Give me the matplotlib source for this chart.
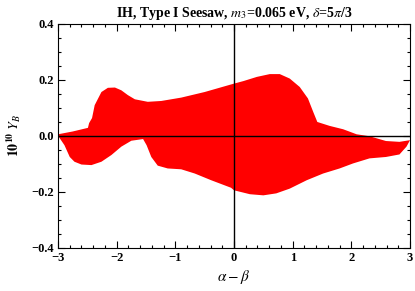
import matplotlib.pyplot as plt
import numpy as np
from matplotlib.ticker import MultipleLocator

plt.rcParams['font.family'] = ['Liberation Serif', 'DejaVu Serif']
plt.rcParams['mathtext.fontset'] = 'stix'

# upper edge of the allowed region (alpha - beta, 10^10 Y_B)
x_upper = [-3.0, -2.75, -2.49, -2.47, -2.42, -2.375, -2.26, -2.15, -2.03, -1.92,
           -1.81, -1.69, -1.47, -1.24, -0.90, -0.50, -0.05, 0.0, 0.16, 0.39,
           0.61, 0.78, 0.95, 1.12, 1.26, 1.35, 1.42, 1.63, 1.86, 2.09,
           2.31, 2.59, 2.82, 3.0]
y_upper = [0.005, 0.015, 0.028, 0.045, 0.063, 0.109, 0.156, 0.171, 0.172, 0.162,
           0.145, 0.130, 0.121, 0.124, 0.136, 0.156, 0.183, 0.186, 0.195, 0.21,
           0.22, 0.22, 0.204, 0.174, 0.133, 0.085, 0.049, 0.035, 0.023, 0.005,
           -0.002, -0.019, -0.022, -0.016]

# lower edge of the allowed region
x_lower = [-3.0, -2.89, -2.80, -2.72, -2.60, -2.43, -2.26, -2.09, -1.92, -1.75,
           -1.55, -1.49, -1.41, -1.30, -1.13, -0.90, -0.67, -0.39, -0.05, 0.0,
           0.27, 0.50, 0.72, 0.95, 1.24, 1.52, 1.80, 2.03, 2.31, 2.59,
           2.82, 2.94, 3.0]
y_lower = [0.0, -0.034, -0.076, -0.093, -0.103, -0.105, -0.093, -0.069, -0.039, -0.018,
           -0.012, -0.034, -0.076, -0.107, -0.117, -0.12, -0.135, -0.159, -0.186, -0.195,
           -0.209, -0.213, -0.206, -0.189, -0.159, -0.135, -0.117, -0.099, -0.081, -0.076,
           -0.067, -0.039, -0.016]

fig = plt.figure(figsize=(4.15, 2.91), dpi=100)
ax = fig.add_axes([0.1398, 0.1488, 0.8482, 0.7698])

poly_x = x_upper + x_lower[::-1]
poly_y = y_upper + y_lower[::-1]
ax.fill(poly_x, poly_y, color='#ff0000', lw=0)

# axes through the origin
ax.axhline(0, color='black', lw=1.0)
ax.axvline(0, color='black', lw=1.0)

ax.set_xlim(-3, 3)
ax.set_ylim(-0.4, 0.4)
ax.xaxis.set_major_locator(MultipleLocator(1))
ax.xaxis.set_minor_locator(MultipleLocator(0.2))
ax.yaxis.set_major_locator(MultipleLocator(0.2))
ax.yaxis.set_minor_locator(MultipleLocator(0.05))
ax.set_yticks([-0.4, -0.2, 0.0, 0.2, 0.4])
ax.set_yticklabels(['\u22120.4', '\u22120.2', '0.0', '0.2', '0.4'])
ax.set_xticks([-3, -2, -1, 0, 1, 2, 3])
ax.set_xticklabels(['\u22123', '\u22122', '\u22121', '0', '1', '2', '3'])
ax.tick_params(which='both', direction='in', top=True, right=True, width=0.8)
ax.tick_params(which='major', length=5, labelsize=9, pad=3)
ax.tick_params(which='minor', length=2.5)
for lab in ax.get_xticklabels() + ax.get_yticklabels():
    lab.set_fontweight('bold')
for sp in ax.spines.values():
    sp.set_linewidth(0.8)

ax.set_xlabel(r'$\alpha-\beta$', fontsize=11, labelpad=3)
ax.set_ylabel(r'$\mathbf{10^{10}}\ Y_B$', fontsize=10, fontweight='bold', labelpad=6)
ax.set_title(r'IH, Type I Seesaw, $m_3$=0.065 eV, $\delta$=5$\pi$/3',
             fontsize=10, fontweight='bold', pad=5)

fig.savefig('out.png', dpi=100)
